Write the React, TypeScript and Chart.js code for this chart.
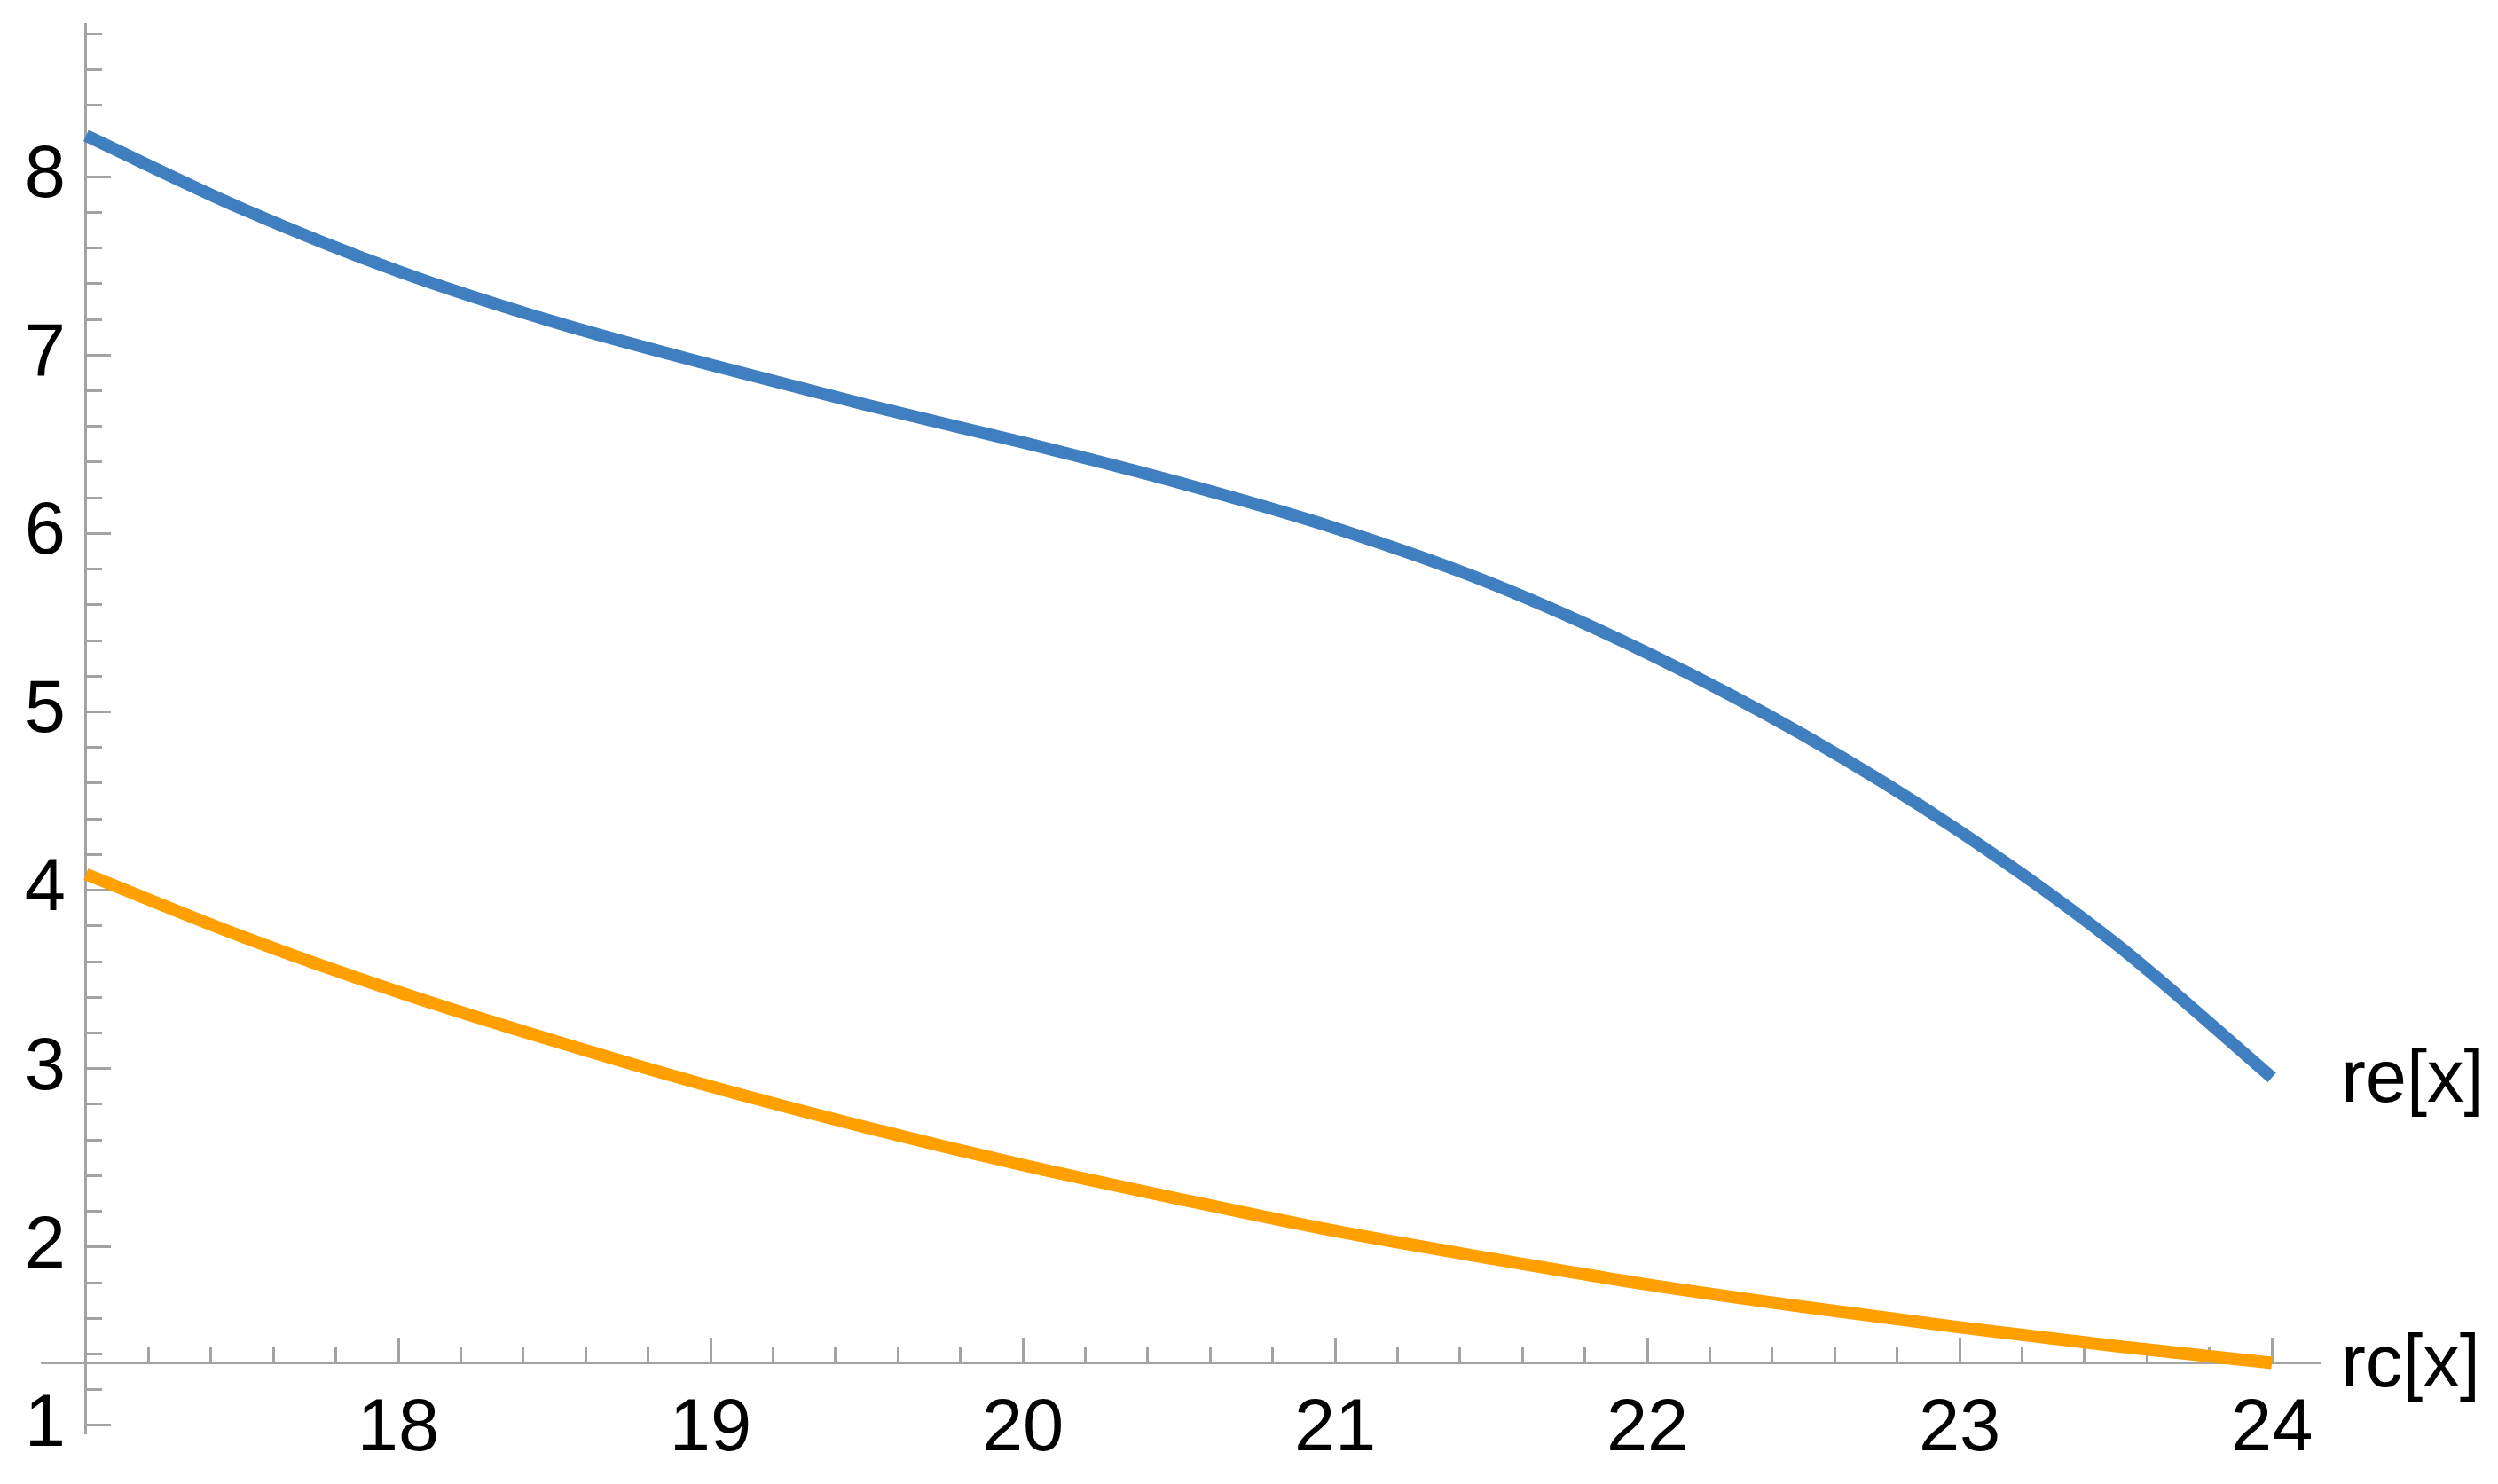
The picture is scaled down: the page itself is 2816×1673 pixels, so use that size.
import { useEffect, useRef } from "react";
import { Chart, registerables } from "chart.js";

Chart.register(...registerables);

// ---- data ----
const xValues = [17, 17.5, 18, 18.5, 19, 19.5, 20, 20.5, 21, 21.5, 22, 22.5, 23, 23.5, 24];
const reValues = [8.23, 7.82, 7.47, 7.185, 6.945, 6.72, 6.51, 6.285, 6.03, 5.72, 5.33, 4.87, 4.33, 3.7, 2.95];
const rcValues = [4.09, 3.74, 3.43, 3.155, 2.9, 2.67, 2.46, 2.27, 2.09, 1.935, 1.79, 1.665, 1.55, 1.445, 1.35];
const seriesNames = ["re[x]", "rc[x]"];
const seriesColors = ["#3f7fbf", "#ffa000"];
const xMajorTicks = [18, 19, 20, 21, 22, 23, 24];
const yMajorTicks = [1, 2, 3, 4, 5, 6, 7, 8];

const X_MIN = 16.858;
const X_MAX = 24.153;
const Y_MIN = 0.955;
const Y_MAX = 8.856;
const CROSS_X = 17;
const CROSS_Y = 1.35;

const minorRange = (from: number, to: number, exclude: number[]) => {
  const out: number[] = [];
  for (let k = 0; ; k++) {
    const v = Math.round((from + 0.2 * k) * 10) / 10;
    if (v > to + 1e-9) break;
    if (!exclude.some((e) => Math.abs(e - v) < 1e-9)) out.push(v);
  }
  return out;
};
const xMinorTicks = minorRange(17.2, 24, xMajorTicks);
const yMinorTicks = minorRange(1.0, 8.8, yMajorTicks);

const AXIS_COLOR = "#a3a3a3";
const FONT_FAMILY = '"Liberation Sans", Arial, sans-serif';
const FONT_SIZE = 83;

const zeroPadding = (s: any) => {
  s.paddingTop = 0;
  s.paddingBottom = 0;
  s.paddingLeft = 0;
  s.paddingRight = 0;
};

const endLabels = {
  id: "endLabels",
  afterDatasetsDraw(chart: any) {
    const { ctx } = chart;
    const xs = chart.scales.x;
    const ys = chart.scales.y;
    chart.data.datasets.forEach((ds: any) => {
      const last = ds.data[ds.data.length - 1];
      ctx.save();
      ctx.font = `${FONT_SIZE}px ${FONT_FAMILY}`;
      ctx.fillStyle = "#000";
      ctx.textAlign = "left";
      ctx.textBaseline = "middle";
      ctx.fillText(ds.label, xs.getPixelForValue(last.x) + 78, ys.getPixelForValue(last.y) + 4);
      ctx.restore();
    });
  },
};

export default function App() {
  const ref = useRef<HTMLCanvasElement | null>(null);

  useEffect(() => {
    if (!ref.current) return;
    const series = [reValues, rcValues];
    const chart = new Chart(ref.current, {
      type: "line",
      data: {
        datasets: series.map((vals, i) => ({
          label: seriesNames[i],
          data: xValues.map((x, j) => ({ x, y: vals[j] })),
          borderColor: seriesColors[i],
          backgroundColor: seriesColors[i],
          borderWidth: 14,
          pointRadius: 0,
          fill: false,
          cubicInterpolationMode: "monotone" as const,
        })),
      },
      options: {
        animation: false,
        responsive: false,
        devicePixelRatio: 1,
        layout: { padding: { left: 47, right: 201, top: 27, bottom: 57 } },
        plugins: { legend: { display: false }, tooltip: { enabled: false } },
        scales: {
          x: {
            type: "linear",
            min: X_MIN,
            max: X_MAX,
            position: { y: CROSS_Y } as any,
            afterBuildTicks: (s: any) => {
              s.ticks = xMajorTicks.map((v) => ({ value: v }));
            },
            afterFit: zeroPadding,
            ticks: {
              padding: 56,
              color: "#000",
              font: { family: FONT_FAMILY, size: FONT_SIZE },
              maxRotation: 0,
              autoSkip: false,
              callback: (v: any) => String(v),
            },
            grid: { drawOnChartArea: false, drawTicks: true, tickLength: -30, tickWidth: 3, tickColor: AXIS_COLOR },
            border: { display: true, color: AXIS_COLOR, width: 3 },
          },
          xMinor: {
            type: "linear",
            axis: "x",
            min: X_MIN,
            max: X_MAX,
            position: { y: CROSS_Y } as any,
            afterBuildTicks: (s: any) => {
              s.ticks = xMinorTicks.map((v) => ({ value: v }));
            },
            afterFit: zeroPadding,
            ticks: { display: false },
            grid: { drawOnChartArea: false, drawTicks: true, tickLength: -18, tickWidth: 3, tickColor: AXIS_COLOR },
            border: { display: false },
          },
          y: {
            type: "linear",
            min: Y_MIN,
            max: Y_MAX,
            position: { x: CROSS_X } as any,
            afterBuildTicks: (s: any) => {
              s.ticks = yMajorTicks.map((v) => ({ value: v }));
            },
            afterFit: zeroPadding,
            ticks: {
              padding: 0,
              color: "#000",
              font: { family: FONT_FAMILY, size: FONT_SIZE },
              autoSkip: false,
              // trailing space keeps the label clear of the axis line
              callback: (v: any) => String(v) + " ",
            },
            grid: { drawOnChartArea: false, drawTicks: true, tickLength: -30, tickWidth: 3, tickColor: AXIS_COLOR },
            border: { display: true, color: AXIS_COLOR, width: 3 },
          },
          yMinor: {
            type: "linear",
            axis: "y",
            min: Y_MIN,
            max: Y_MAX,
            position: { x: CROSS_X } as any,
            afterBuildTicks: (s: any) => {
              s.ticks = yMinorTicks.map((v) => ({ value: v }));
            },
            afterFit: zeroPadding,
            ticks: { display: false },
            grid: { drawOnChartArea: false, drawTicks: true, tickLength: -18, tickWidth: 3, tickColor: AXIS_COLOR },
            border: { display: false },
          },
        },
      },
      plugins: [endLabels],
    });
    return () => chart.destroy();
  }, []);

  return (
    <div style={{ position: "absolute", left: 0, top: 0, width: 2816, height: 1673, background: "#fff" }}>
      <canvas ref={ref} width={2816} height={1673} style={{ display: "block" }} />
    </div>
  );
}
